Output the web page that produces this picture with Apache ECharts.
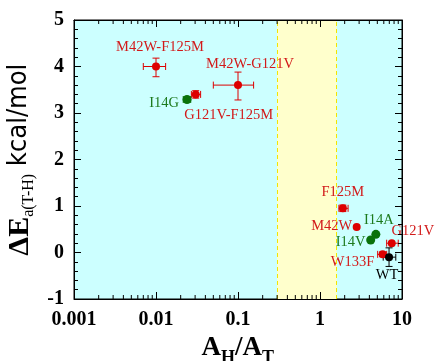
<!DOCTYPE html>
<html>
<head>
<meta charset="utf-8">
<script src="https://cdn.jsdelivr.net/npm/echarts@6/dist/echarts.min.js"></script>
<style>
html,body{margin:0;padding:0;background:#fff;}
#c{width:436px;height:361px;}
</style>
</head>
<body>
<div id="c"></div>
<script>
// ---- data ----
const redNames = ['M42W-F125M','M42W-G121V','G121V-F125M','F125M','M42W','G121V','W133F'];
const redX     = [0.01, 0.1, 0.0305, 1.9, 2.8, 7.5, 5.8];
const redY     = [4.0, 3.6, 3.4, 0.95, 0.55, 0.2, -0.04];
const redXLo   = [0.007, 0.05, 0.027, 1.7, 2.8, 6.5, 5.05];
const redXHi   = [0.0131, 0.155, 0.035, 2.2, 2.8, 9.0, 6.5];
const redYLo   = [3.78, 3.28, 3.32, 0.88, 0.55, 0.2, -0.09];
const redYHi   = [4.18, 3.88, 3.48, 1.02, 0.55, 0.2, 0.01];

const greenNames = ['I14G','I14A','I14V'];
const greenX     = [0.0239, 4.8, 4.15];
const greenY     = [3.29, 0.39, 0.27];
const greenXLo   = [0.0215, 4.8, 4.15];
const greenXHi   = [0.0265, 4.8, 4.15];
const greenYLo   = [3.25, 0.39, 0.27];
const greenYHi   = [3.33, 0.39, 0.27];

const blackNames = ['WT'];
const blackX     = [6.95];
const blackY     = [-0.1];
const blackXLo   = [5.9];
const blackXHi   = [8.4];
const blackYLo   = [-0.3];
const blackYHi   = [0.1];

const bandRange = [0.3, 1.6];
const xTickDecades = [0.001, 0.01, 0.1, 1];
const xMinorMultipliers = [2,3,4,5,6,7,8,9];
const yRange = [-1, 5];

// ---- label placement (pixel offsets, style only) ----
const labelOffset = {
  'M42W-F125M':[4,-19], 'M42W-G121V':[12,-21], 'I14G':[-23,4], 'G121V-F125M':[33,21],
  'F125M':[0,-16], 'M42W':[-25,-1], 'I14A':[3,-14], 'I14V':[-20,2],
  'G121V':[21,-12], 'W133F':[-30,8], 'WT':[-2,18]
};

const RED = '#dd0000', GREEN = '#0a720a', BLACK = '#000';
const RED_TXT = '#d21a1a', GREEN_TXT = '#1d7a1d';

function pts(names, xs, ys, txtColor) {
  return names.map((n, i) => ({
    name: n, value: [xs[i], ys[i]],
    label: { show: true, formatter: n, position: 'inside', offset: labelOffset[n],
      color: txtColor, fontFamily: 'Liberation Serif, Times New Roman, serif', fontSize: 14.5 }
  }));
}
function errs(xs, ys, xl, xh, yl, yh) {
  return xs.map((x, i) => [x, ys[i], xl[i], xh[i], yl[i], yh[i]]);
}
const minorTicks = [];
xTickDecades.forEach(d => xMinorMultipliers.forEach(m => minorTicks.push([m * d])));

function errRender(color) {
  return function (params, api) {
    const x = api.value(0), y = api.value(1);
    const xl = api.value(2), xh = api.value(3), yl = api.value(4), yh = api.value(5);
    const ch = [];
    const st = { stroke: color, lineWidth: 1 };
    const cap = 3.5;
    if (xl !== xh) {
      const a = api.coord([xl, y]), b = api.coord([xh, y]);
      ch.push({ type: 'line', shape: { x1: a[0], y1: a[1], x2: b[0], y2: b[1] }, style: st });
      ch.push({ type: 'line', shape: { x1: a[0], y1: a[1]-cap, x2: a[0], y2: a[1]+cap }, style: st });
      ch.push({ type: 'line', shape: { x1: b[0], y1: b[1]-cap, x2: b[0], y2: b[1]+cap }, style: st });
    }
    if (yl !== yh) {
      const a = api.coord([x, yl]), b = api.coord([x, yh]);
      ch.push({ type: 'line', shape: { x1: a[0], y1: a[1], x2: b[0], y2: b[1] }, style: st });
      ch.push({ type: 'line', shape: { x1: a[0]-cap, y1: a[1], x2: a[0]+cap, y2: a[1] }, style: st });
      ch.push({ type: 'line', shape: { x1: b[0]-cap, y1: b[1], x2: b[0]+cap, y2: b[1] }, style: st });
    }
    return { type: 'group', children: ch };
  };
}

const tickFont = { color: '#000', fontFamily: 'Liberation Serif, Times New Roman, serif', fontWeight: 'bold', fontSize: 20 };

const chart = echarts.init(document.getElementById('c'), null, { renderer: 'canvas' });
chart.setOption({
  animation: false,
  backgroundColor: '#fff',
  grid: { left: 74, right: 34, top: 20, bottom: 62, containLabel: false, outerBoundsMode: 'none',
    show: true, backgroundColor: '#ccffff', borderColor: '#000', borderWidth: 1 },
  xAxis: [{
    type: 'log', logBase: 10, min: 0.001, max: 10, position: 'bottom', z: 5,
    axisLine: { show: true, onZero: false, lineStyle: { color: '#000', width: 1 } },
    axisTick: { show: true, inside: true, length: 7, lineStyle: { color: '#000' } },
    minorTick: { show: false },
    splitLine: { show: false },
    axisLabel: Object.assign({ margin: 11 }, tickFont),
    name: '{a|A}{s|H}{a|/A}{s|T}{sp| }', nameLocation: 'middle', nameGap: 33,
    nameTextStyle: { rich: {
      a: { fontFamily: 'Liberation Serif, serif', fontWeight: 'bold', fontSize: 27, lineHeight: 28, verticalAlign: 'top', color: '#000' },
      s: { fontFamily: 'Liberation Serif, serif', fontWeight: 'bold', fontSize: 18, lineHeight: 18, verticalAlign: 'bottom', color: '#000' },
      sp: { fontSize: 1, lineHeight: 32 }
    } }
  }, {
    type: 'log', logBase: 10, min: 0.001, max: 10, position: 'top', z: 5,
    axisLine: { show: true, onZero: false, lineStyle: { color: '#000' } },
    axisTick: { show: true, inside: true, length: 7, lineStyle: { color: '#000' } },
    axisLabel: { show: false }, splitLine: { show: false }
  }],
  yAxis: [{
    type: 'value', min: yRange[0], max: yRange[1], interval: 1, position: 'left', z: 5,
    axisLine: { show: true, onZero: false, lineStyle: { color: '#000' } },
    axisTick: { show: true, inside: true, length: 7, lineStyle: { color: '#000' } },
    minorTick: { show: true, splitNumber: 5, length: 4, lineStyle: { color: '#000' } },
    splitLine: { show: false },
    axisLabel: Object.assign({ margin: 10 }, tickFont),
    name: '{d|ΔE}{s|a(T-H)}{k| kcal/mol}{sp| }', nameLocation: 'middle', nameGap: 29, nameRotate: 90,
    nameTextStyle: { rich: {
      d: { fontFamily: 'Liberation Serif, serif', fontWeight: 'bold', fontSize: 30, lineHeight: 30, verticalAlign: 'top', color: '#000' },
      s: { fontFamily: 'Liberation Serif, serif', fontSize: 16, lineHeight: 16, verticalAlign: 'bottom', color: '#000' },
      k: { fontFamily: 'Liberation Sans Narrow, DejaVu Sans Condensed, Liberation Sans, sans-serif', fontSize: 27, lineHeight: 30, verticalAlign: 'top', color: '#000' },
      sp: { fontSize: 1, lineHeight: 31 }
    } }
  }, {
    type: 'value', min: yRange[0], max: yRange[1], interval: 1, position: 'right', z: 5,
    axisLine: { show: true, onZero: false, lineStyle: { color: '#000' } },
    axisTick: { show: true, inside: true, length: 7, lineStyle: { color: '#000' } },
    minorTick: { show: true, splitNumber: 5, length: 4, lineStyle: { color: '#000' } },
    splitLine: { show: false }, axisLabel: { show: false }
  }],
  series: [
    { type: 'scatter', data: [], silent: true,
      markArea: { silent: true, itemStyle: { color: '#ffffcc' }, data: [[{ xAxis: bandRange[0] }, { xAxis: bandRange[1] }]] },
      markLine: { silent: true, symbol: 'none', label: { show: false },
        lineStyle: { color: '#f2e600', type: [4, 3], width: 1 },
        data: bandRange.map(v => ({ xAxis: v })) } },
    { type: 'custom', data: minorTicks, z: 6, silent: true, clip: false,
      renderItem: function (params, api) {
        const v = api.value(0);
        const b = api.coord([v, yRange[0]]), t = api.coord([v, yRange[1]]);
        const st = { stroke: '#000', lineWidth: 1 };
        return { type: 'group', children: [
          { type: 'line', shape: { x1: b[0], y1: b[1], x2: b[0], y2: b[1]-4 }, style: st },
          { type: 'line', shape: { x1: t[0], y1: t[1], x2: t[0], y2: t[1]+4 }, style: st }
        ] };
      } },
    { type: 'custom', data: errs(redX, redY, redXLo, redXHi, redYLo, redYHi), renderItem: errRender(RED), z: 3, silent: true },
    { type: 'custom', data: errs(greenX, greenY, greenXLo, greenXHi, greenYLo, greenYHi), renderItem: errRender(GREEN), z: 3, silent: true },
    { type: 'custom', data: errs(blackX, blackY, blackXLo, blackXHi, blackYLo, blackYHi), renderItem: errRender(BLACK), z: 3, silent: true },
    { type: 'scatter', symbol: 'circle', symbolSize: 8, itemStyle: { color: RED, opacity: 1 }, z: 4,
      data: pts(redNames, redX, redY, RED_TXT) },
    { type: 'scatter', symbol: 'circle', symbolSize: 9, itemStyle: { color: GREEN, opacity: 1 }, z: 4,
      data: pts(greenNames, greenX, greenY, GREEN_TXT) },
    { type: 'scatter', symbol: 'circle', symbolSize: 8, itemStyle: { color: BLACK, opacity: 1 }, z: 4,
      data: pts(blackNames, blackX, blackY, '#000') }
  ]
});
</script>
</body>
</html>
